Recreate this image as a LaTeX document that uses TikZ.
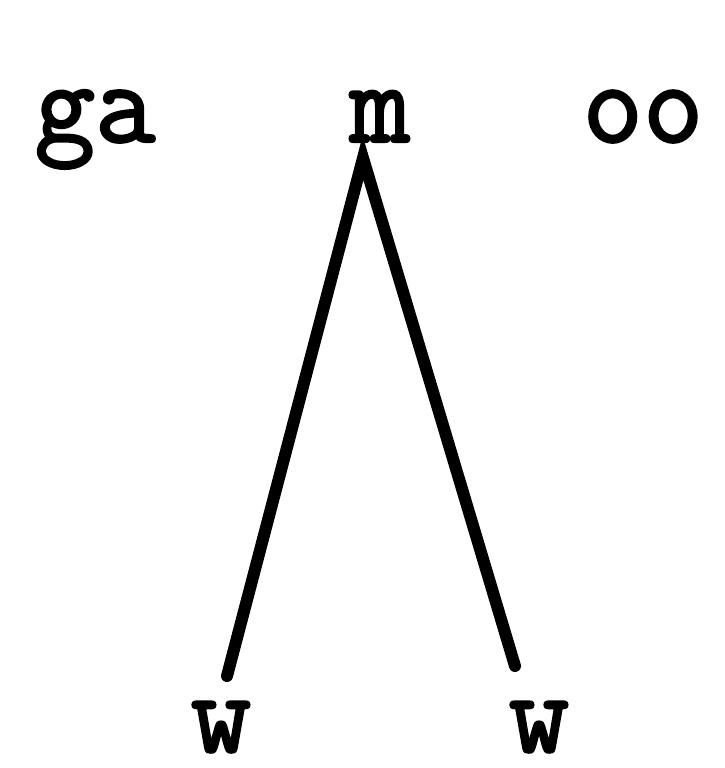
\documentclass[tikz,border=0pt]{standalone}
\usepackage{fontspec}
\newfontfamily\crfont[FakeBold=2]{Latin Modern Mono}
\begin{document}
\begin{tikzpicture}[x=0.75pt,y=-0.75pt,
  lbl/.style={anchor=base,inner sep=0pt,font=\crfont\fontsize{88}{88}\selectfont},
  conn/.style={line width=9pt,line cap=round,line join=miter}]
\useasboundingbox (0,0) rectangle (725,768);
\node[lbl] (ga) at (95,142) {ga};
\node[lbl] (m) at (380,142) {m};
\node[lbl] (oo) at (643,142) {oo};
\node[lbl] (w1) at (221,752) {w};
\node[lbl] (w2) at (539,752) {w};
\coordinate (apex) at (363,158);
\coordinate (e1) at (227,676);
\coordinate (e2) at (515,666);
\draw[conn] (e1) -- (apex) -- (e2);
\end{tikzpicture}
\end{document}
